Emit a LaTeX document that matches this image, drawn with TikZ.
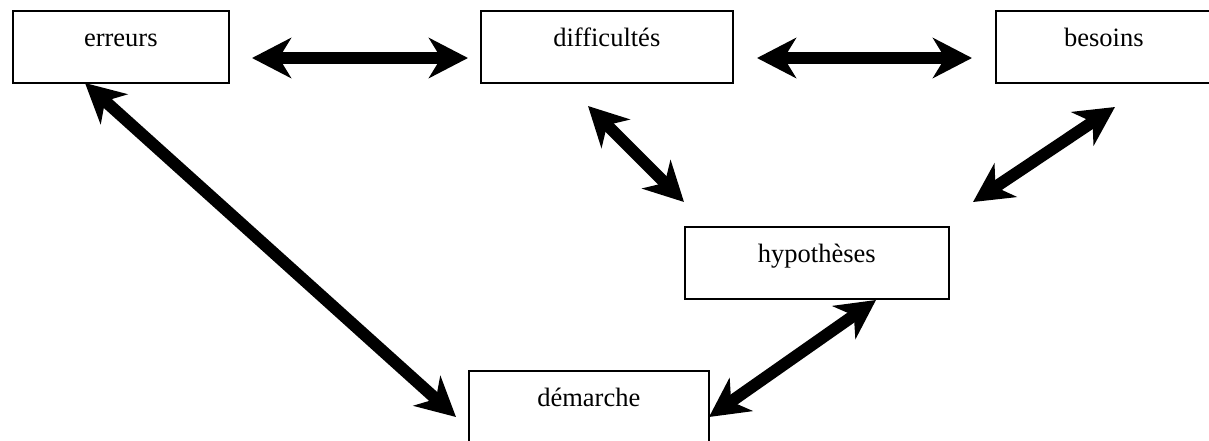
\documentclass[tikz,border=0pt]{standalone}
\usepackage{fontspec}
\setmainfont{Liberation Serif}
\usetikzlibrary{positioning}
\usetikzlibrary{arrows.meta}

\tikzset{
  etape/.style={draw, line width=1.6pt, inner sep=0pt, anchor=north west,
    text height=36pt, text depth=36pt, minimum width=#1,
    font=\fontsize{26.5}{30}\selectfont},
  lien/.style={<->, line width=12pt},
}

\begin{document}
\begin{tikzpicture}[%
  x=1pt, y=-1pt,
  >={Stealth[length=39pt,width=40pt,inset=12pt]},
]

  \useasboundingbox (0,0) rectangle (1209,440);

  \node[etape=216pt] (err) at (12,10)   {erreurs};
  \node[etape=252pt] (dif) at (480,10)  {difficultés};
  \node[etape=216pt] (bes) at (995,10)  {besoins};
  \node[etape=264pt] (hyp) at (684,226) {hypothèses};
  \node[etape=240pt] (dem) at (468,370) {démarche};

  \coordinate (errdifA) at (252,58);
  \coordinate (errdifB) at (468,58);

  \coordinate (difbesA) at (757,58);
  \coordinate (difbesB) at (972,58);

  \coordinate (errdemA) at (85,83);
  \coordinate (errdemB) at (456,417);

  \coordinate (difhypA) at (588,106);
  \coordinate (difhypB) at (684,202);

  \coordinate (beshypA) at (1115,107);
  \coordinate (beshypB) at (973,202);

  \coordinate (hypdemA) at (876,300);
  \coordinate (hypdemB) at (709,417);

  \draw[lien] (errdifA) -- (errdifB);
  \draw[lien] (difbesA) -- (difbesB);
  \draw[lien] (errdemA) -- (errdemB);
  \draw[lien] (difhypA) -- (difhypB);
  \draw[lien] (beshypA) -- (beshypB);
  \draw[lien] (hypdemA) -- (hypdemB);

\end{tikzpicture}
\end{document}
